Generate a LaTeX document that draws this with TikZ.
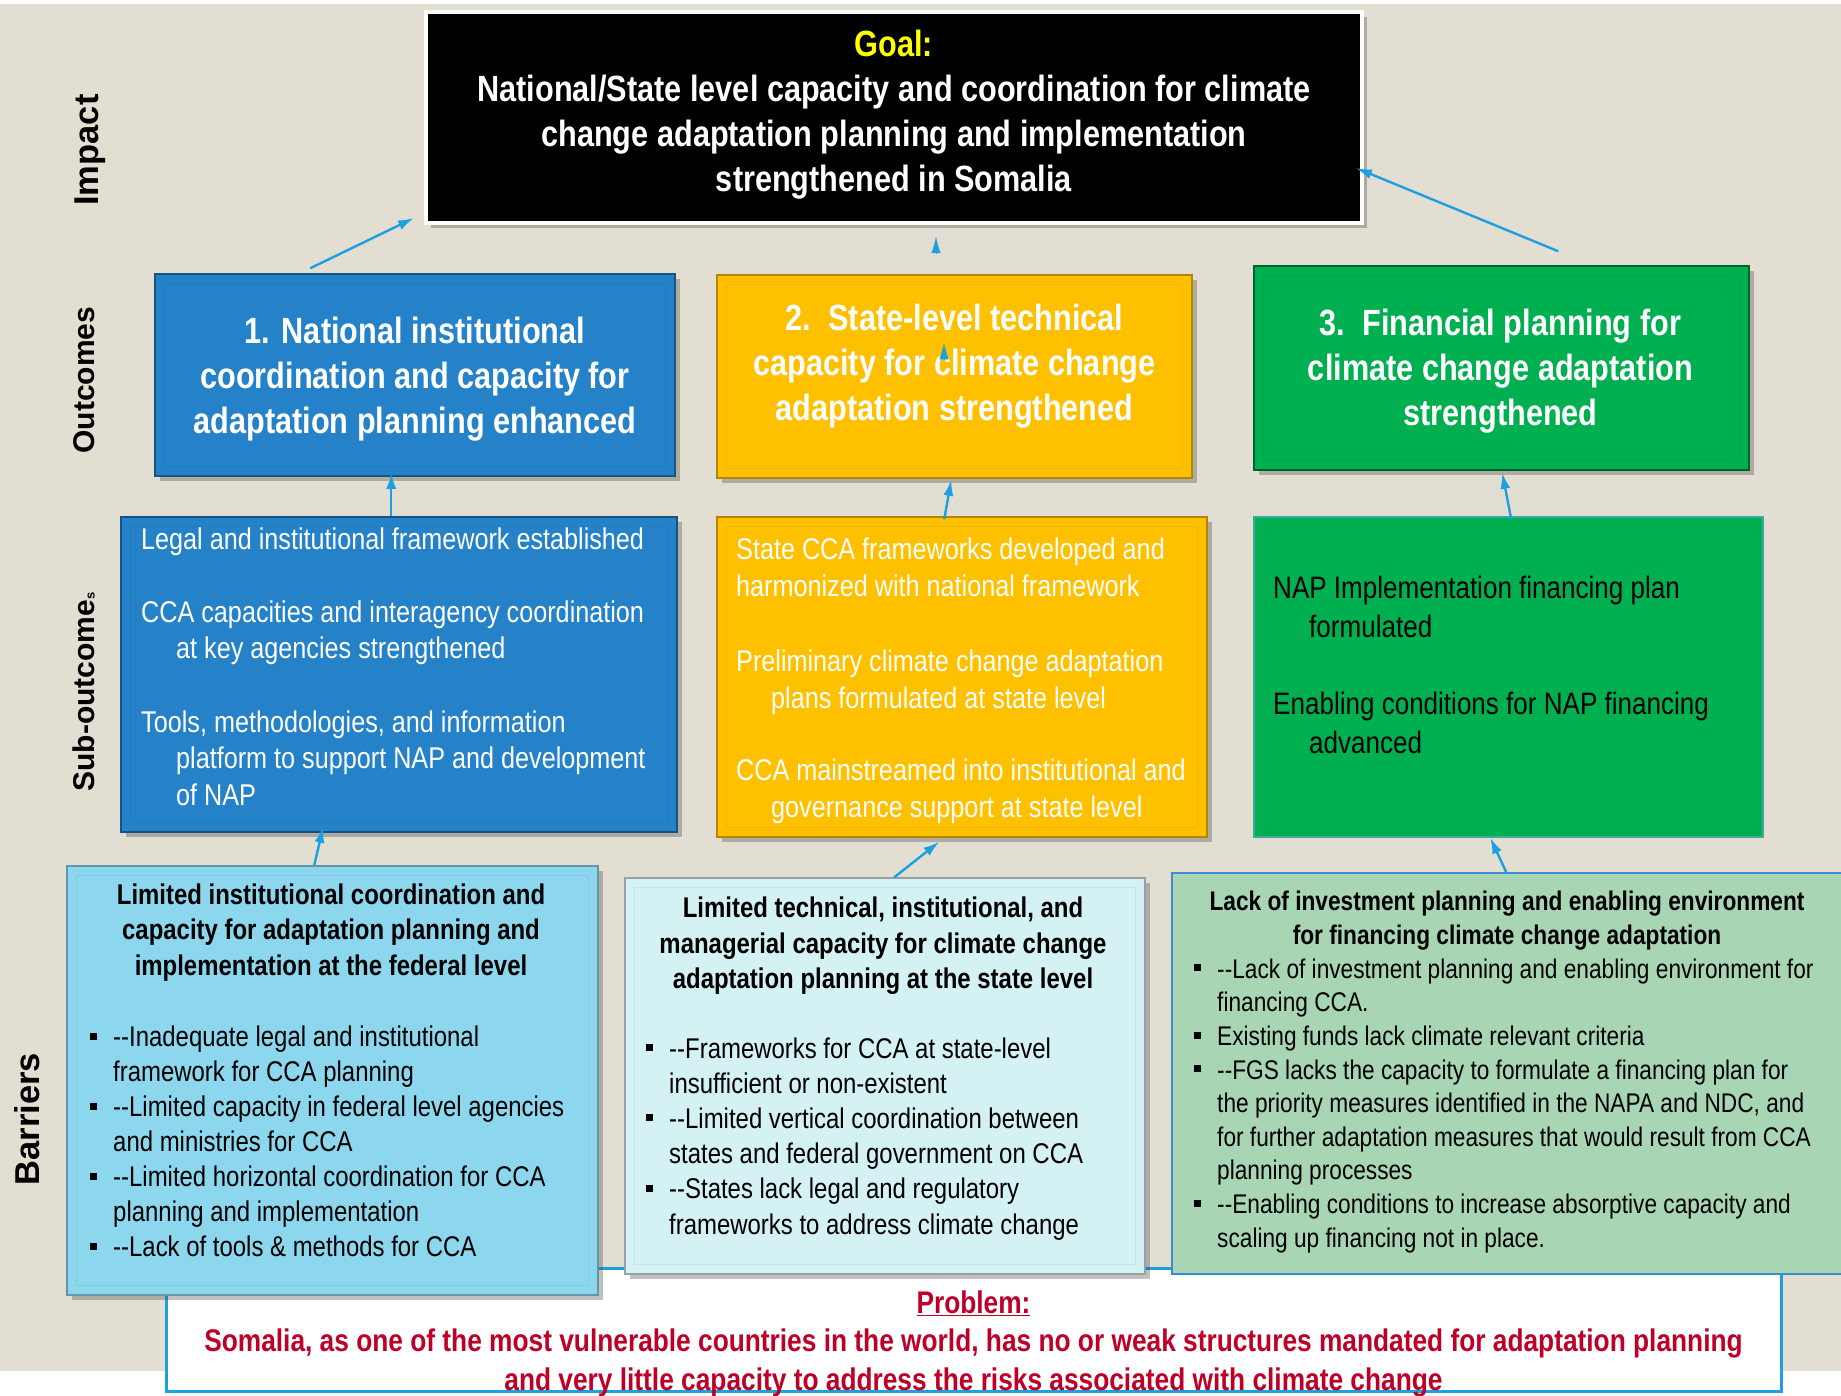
\documentclass[tikz,border=0pt]{standalone}
\usepackage{fontspec}
\setmainfont{Liberation Sans}[FakeStretch=0.84]
\newfontfamily\lblfont{Liberation Sans}
\usetikzlibrary{arrows.meta,shadows,calc}
\definecolor{bgbeige}{RGB}{227,222,210}
\definecolor{oblue}{RGB}{37,130,200}
\definecolor{oyellow}{RGB}{255,192,0}
\definecolor{ogreen}{RGB}{0,176,80}
\definecolor{bblue}{RGB}{140,215,238}
\definecolor{bcyan}{RGB}{212,241,244}
\definecolor{bgreen}{RGB}{168,214,180}
\definecolor{arrowblue}{RGB}{28,160,225}
\definecolor{probred}{RGB}{190,0,40}
\definecolor{goalyellow}{RGB}{255,255,0}
\newcommand\mydd{-\kern0pt-}
\newcommand\fstrut{\rule{0pt}{0.8em}}
\newcommand\bul{\makebox[23.5pt][l]{\rule[7pt]{7pt}{7pt}}}
\newcommand\ind{\hspace*{23.5pt}}
\tikzset{
  box/.style={rectangle, inner sep=0pt, line width=1.5pt},
  shad/.style={drop shadow={shadow xshift=5pt, shadow yshift=-5pt, opacity=0.35, fill=black!70}},
  txt/.style={inner sep=0pt, anchor=north west, align=left},
  ctxt/.style={inner sep=0pt, anchor=north, align=center},
  arr/.style={draw=arrowblue, line width=2.4pt, -{Latex[length=16pt,width=10pt]}},
  head/.style={draw=arrowblue, line width=0.1pt, -{Latex[length=16pt,width=9pt]}},
  lbl/.style={rotate=90, inner sep=0pt, text=black},
  otxt/.style={ctxt, text=white, font=\fontsize{36.5}{45}\selectfont\bfseries},
}
\begin{document}
\begin{tikzpicture}[x=1pt,y=-1pt]
\useasboundingbox (0,0) rectangle (1841,1395);
\fill[white] (0,0) rectangle (1841,1395);
\fill[bgbeige] (0,4) rectangle (1841,1371);

% side labels
\node[lbl, font=\lblfont\bfseries\fontsize{34.5}{40}\selectfont] (limpact) at (90,150) {Impact};
\node[lbl, font=\lblfont\bfseries\fontsize{30}{36}\selectfont] (loutc) at (84,380) {Outcomes};
\node[lbl, font=\lblfont\bfseries\fontsize{30}{36}\selectfont] (lsub) at (84,692) {Sub-outcome{\fontsize{13}{13}\selectfont s}};
\node[lbl, font=\lblfont\bfseries\fontsize{34.5}{40}\selectfont] (lbar) at (27,1119) {Barriers};

% problem box
\node[box, fill=white, draw=arrowblue, line width=3pt, minimum width=1615pt, minimum height=123pt] (pb) at (973.5,1329.5) {};

% goal
\node[box, fill=black, draw=white, line width=4pt, minimum width=936pt, minimum height=211pt, shad] (goal) at (894,117.5) {};

% outcomes
\node[box, fill=oblue, draw=oblue!65!black, minimum width=520pt, minimum height=202pt, shad] (o1) at (415,375) {};
\node[box, fill=oyellow, draw=oyellow!70!black, minimum width=475pt, minimum height=203pt, shad] (o2) at (954.5,376.5) {};
\node[box, fill=ogreen, draw=ogreen!55!black, minimum width=495pt, minimum height=204pt, shad] (o3) at (1501.5,368) {};

% sub-outcomes
\node[box, fill=oblue, draw=oblue!65!black, minimum width=556pt, minimum height=315pt, shad] (s1) at (399,674.5) {};
\node[box, fill=oyellow, draw=oyellow!70!black, minimum width=490pt, minimum height=320pt, shad] (s2) at (962,677) {};
\node[box, fill=ogreen, draw={rgb,255:red,60;green,170;blue,160}, minimum width=509pt, minimum height=320pt] (s3) at (1508.5,677) {};

% barriers
\node[box, fill=bblue, draw={rgb,255:red,100;green,150;blue,170}, minimum width=531pt, minimum height=429pt, shad] (b1) at (332.5,1080.5) {};
\node[box, fill=bcyan, draw={rgb,255:red,150;green,160;blue,165}, minimum width=520pt, minimum height=396pt, shad] (b2) at (885,1076) {};
\node[box, fill=bgreen, draw={rgb,255:red,60;green,140;blue,210}, minimum width=673pt, minimum height=401pt] (b3) at (1508.5,1073.5) {};

% faint inner frames
\foreach \n/\c in {o1/oblue, o2/oyellow, o3/ogreen, s1/oblue, s2/oyellow, b1/bblue, b2/bcyan}{
  \draw[\c!85!black, opacity=0.35, line width=0.8pt] ($(\n.north west)+(10,10)$) rectangle ($(\n.south east)+(-10,-10)$);
}

% goal text
\node[otxt] (goaltxt) at (894,27) {\fstrut\textcolor{goalyellow}{Goal:}\\National/State level capacity and coordination for climate\\change adaptation planning and implementation\\strengthened in Somalia};

% outcome texts
\node[otxt] (o1t) at (415,314) {\fstrut 1. National institutional\\coordination and capacity for\\adaptation planning enhanced};
\node[otxt] (o2t) at (954.5,301) {\fstrut 2.\ \ State-level technical\\capacity for climate change\\adaptation strengthened};
\node[otxt] (o3t) at (1500.5,306) {\fstrut 3.\ \ Financial planning for\\climate change adaptation\\strengthened};

% sub-outcome texts
\begin{scope}[every node/.style={txt, text=white, font=\fontsize{30}{36.5}\selectfont}]
\node (s1a) at (141,525) {\fstrut Legal and institutional framework established};
\node (s1b) at (141,598) {\fstrut CCA capacities and interagency coordination\\\hspace*{35pt}at key agencies strengthened};
\node (s1c) at (141,708) {\fstrut Tools, methodologies, and information\\\hspace*{35pt}platform to support NAP and development\\\hspace*{35pt}of NAP};
\end{scope}
\begin{scope}[every node/.style={txt, text=white, font=\fontsize{30}{37}\selectfont}]
\node (s2a) at (736,535) {\fstrut State CCA frameworks developed and\\harmonized with national framework};
\node (s2b) at (736,647) {\fstrut Preliminary climate change adaptation\\\hspace*{35pt}plans formulated at state level};
\node (s2c) at (736,756) {\fstrut CCA mainstreamed into institutional and\\\hspace*{35pt}governance support at state level};
\end{scope}
\begin{scope}[every node/.style={txt, text=black, font=\fontsize{31}{38.5}\selectfont}]
\node (s3a) at (1273,573.5) {\fstrut NAP Implementation financing plan\\\hspace*{36pt}formulated};
\node (s3b) at (1273,689.5) {\fstrut Enabling conditions for NAP financing\\\hspace*{36pt}advanced};
\end{scope}

% barrier texts
\node[ctxt, text=black, font=\fontsize{28.5}{35.5}\selectfont\bfseries] (b1t) at (331,881) {\fstrut Limited institutional coordination and\\capacity for adaptation planning and\\implementation at the federal level};
\node[txt, text=black, font=\fontsize{28.5}{35}\selectfont] (b1l) at (89.5,1023.5) {\fstrut\bul\mydd Inadequate legal and institutional\\
\ind framework for CCA planning\\
\bul\mydd Limited capacity in federal level agencies\\
\ind and ministries for CCA\\
\bul\mydd Limited horizontal coordination for CCA\\
\ind planning and implementation\\
\bul\mydd Lack of tools \& methods for CCA};

\node[ctxt, text=black, font=\fontsize{28.5}{35.5}\selectfont\bfseries] (b2t) at (883,894.5) {\fstrut Limited technical, institutional, and\\managerial capacity for climate change\\adaptation planning at the state level};
\node[txt, text=black, font=\fontsize{28.5}{35.2}\selectfont] (b2l) at (645.5,1035) {\fstrut\bul\mydd Frameworks for CCA at state-level\\
\ind insufficient or non-existent\\
\bul\mydd Limited vertical coordination between\\
\ind states and federal government on CCA\\
\bul\mydd States lack legal and regulatory\\
\ind frameworks to address climate change};

\node[ctxt, text=black, font=\fontsize{27}{34}\selectfont\bfseries] (b3t) at (1507,888.5) {\fstrut Lack of investment planning and enabling environment\\for financing climate change adaptation};
\node[txt, text=black, font=\fontsize{27}{33.6}\selectfont] (b3l) at (1193.5,956.5) {\fstrut\bul\mydd Lack of investment planning and enabling environment for\\
\ind financing CCA.\\
\bul Existing funds lack climate relevant criteria\\
\bul\mydd FGS lacks the capacity to formulate a financing plan for\\
\ind the priority measures identified in the NAPA and NDC, and\\
\ind for further adaptation measures that would result from CCA\\
\ind planning processes\\
\bul\mydd Enabling conditions to increase absorptive capacity and\\
\ind scaling up financing not in place.};

% problem text
\node[ctxt, text=probred, font=\fontsize{31.3}{38.5}\selectfont\bfseries] (pbt) at (973.5,1288) {\fstrut\underline{Problem:}\\Somalia, as one of the most vulnerable countries in the world, has no or weak structures mandated for adaptation planning\\and very little capacity to address the risks associated with climate change};

% arrows
\draw[arr] ($(o1.north west)+(156,-5)$) -- ($(goal.south west)+(-10,-7)$);
\draw[arr] ($(o3.north west)+(305,-14)$) -- ($(goal.south east)+(-8,-57)$);
\draw[head] ($(goal.south)+(42,28)$) -- ($(goal.south)+(42,12)$);
\draw[head] ($(o2.north)+(-10.5,85)$) -- ($(o2.north)+(-10.5,69)$);
\draw[arr] ($(s1.north west)+(271,0)$) -- ($(o1.south west)+(237,-4)$);
\draw[arr] ($(s2.north west)+(228,3)$) -- ($(o2.south west)+(235,1)$);
\draw[arr] ($(s3.north west)+(258,3)$) -- ($(o3.south west)+(249,2)$);
\draw[arr] ($(b1.north west)+(248,0)$) -- ($(s1.south west)+(203,-6)$);
\draw[arr] ($(b2.north west)+(270,0)$) -- ($(s2.south west)+(223,4)$);
\draw[arr] ($(b3.north west)+(335,0)$) -- ($(s3.south west)+(237,0)$);
\end{tikzpicture}
\end{document}
